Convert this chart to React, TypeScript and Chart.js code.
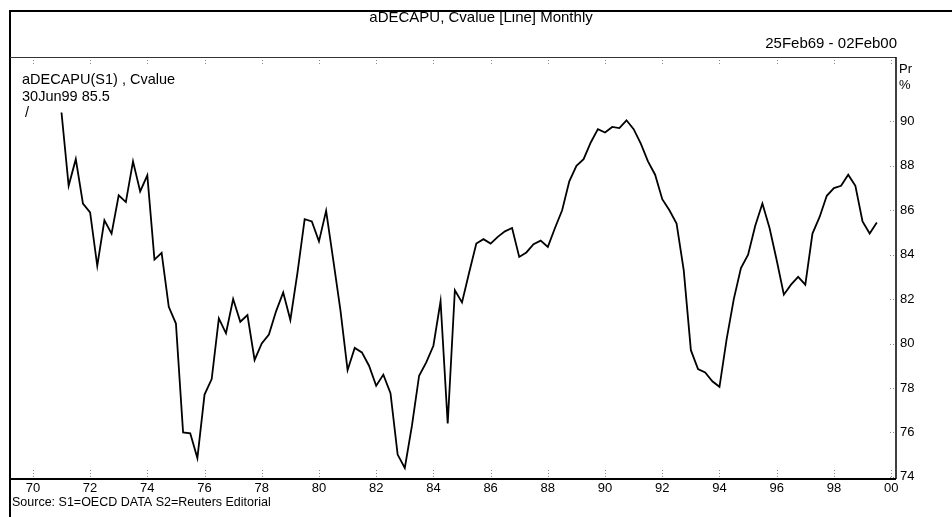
import React, { useEffect, useRef } from "react";
import { Chart, registerables } from "chart.js";

Chart.register(...registerables);

// Quarterly observations, first one dated at the end of 1970 Q4 (decimal year 1971.0)
const FIRST_PERIOD_END = 1971.0;
const PERIOD_STEP = 0.25;

const capacityUtilisation: number[] = [
  90.4, 87.1, 88.3, 86.3, 85.9, 83.5, 85.55, 84.95, 86.67, 86.37,
  88.2, 86.85, 87.57, 83.78, 84.08, 81.65, 80.9, 76.0, 75.96, 74.84,
  77.7, 78.4, 81.13, 80.46, 82.0, 80.98, 81.28, 79.26, 80.0, 80.4,
  81.45, 82.3, 81.06, 83.2, 85.6, 85.5, 84.6, 85.97, 83.75, 81.5,
  78.8, 79.8, 79.6, 79.0, 78.1, 78.6, 77.76, 75.0, 74.4, 76.3,
  78.55, 79.15, 79.9, 81.9, 76.4, 82.4, 81.85, 83.2, 84.5, 84.7,
  84.5, 84.8, 85.05, 85.2, 83.9, 84.1, 84.47, 84.63, 84.35, 85.2,
  86.0, 87.3, 88.0, 88.3, 89.05, 89.65, 89.5, 89.75, 89.7, 90.05,
  89.65, 89.0, 88.2, 87.6, 86.5, 86.0, 85.4, 83.3, 79.7, 78.85,
  78.7, 78.3, 78.05, 80.2, 82.0, 83.4, 84.0, 85.3, 86.3, 85.2,
  83.75, 82.2, 82.65, 83.0, 82.65, 84.95, 85.7, 86.65, 87.0, 87.1,
  87.6, 87.1, 85.5, 84.95, 85.45,
];

const xTickYears = [1970, 1972, 1974, 1976, 1978, 1980, 1982, 1984, 1986, 1988, 1990, 1992, 1994, 1996, 1998, 2000];
const xTickLabels = ["70", "72", "74", "76", "78", "80", "82", "84", "86", "88", "90", "92", "94", "96", "98", "00"];
const yTickValues = [74, 76, 78, 80, 82, 84, 86, 88, 90];

const X_MIN = 1969.2;
const X_MAX = 2000.17;
const Y_MIN = 73.9;
const Y_MAX = 92.9;

const titleText = "aDECAPU, Cvalue [Line] Monthly";
const dateRangeText = "25Feb69 - 02Feb00";
const seriesLabel = "aDECAPU(S1) , Cvalue";
const lastValueLabel = "30Jun99 85.5";
const unitLines = ["Pr", "%"];
const sourceText = "Source: S1=OECD DATA S2=Reuters Editorial";

const SANS = '"Liberation Sans", Arial, "DejaVu Sans", sans-serif';
const NARROW = '"Liberation Sans Narrow", "Liberation Sans", Arial, sans-serif';

const W = 952;
const H = 517;

const framePlugin = {
  id: "reutersFrame",
  beforeDraw(chart: any) {
    const ctx = chart.ctx;
    ctx.save();
    ctx.fillStyle = "#ffffff";
    ctx.fillRect(0, 0, chart.width, chart.height);
    ctx.restore();
  },
  afterDraw(chart: any) {
    const { ctx, chartArea: a, scales } = chart;
    const line = (x1: number, y1: number, x2: number, y2: number, w: number, color = "#000") => {
      ctx.beginPath();
      ctx.lineWidth = w;
      ctx.strokeStyle = color;
      ctx.moveTo(x1, y1);
      ctx.lineTo(x2, y2);
      ctx.stroke();
    };
    ctx.save();

    // small dotted tick marks inside the plot
    ctx.setLineDash([1, 2]);
    xTickYears.forEach((yr) => {
      const x = Math.round(scales.x.getPixelForValue(yr)) + 0.5;
      line(x, a.top, x, a.top + 8, 1, "#8a8a8a");
      line(x, a.bottom - 9, x, a.bottom, 1, "#8a8a8a");
    });
    yTickValues.forEach((v) => {
      const y = Math.round(scales.y.getPixelForValue(v)) + 0.5;
      line(a.right - 6, y, a.right, y, 1, "#8a8a8a");
    });
    ctx.setLineDash([]);

    // frame
    line(10, 11, W, 11, 2);
    line(10, 10, 10, H, 2);
    line(a.left, a.top + 0.5, a.right, a.top + 0.5, 1, "#333");
    line(a.right, a.top, a.right, a.bottom, 1.5);
    line(a.left, a.bottom, a.right, a.bottom, 2);

    // texts
    ctx.fillStyle = "#000";
    ctx.textBaseline = "middle";

    ctx.font = `15px ${SANS}`;
    ctx.textAlign = "center";
    ctx.fillText(titleText, 481, 18);

    ctx.textAlign = "right";
    ctx.fillText(dateRangeText, 897, 44);

    ctx.textAlign = "left";
    ctx.font = `14.5px ${SANS}`;
    ctx.fillText(seriesLabel, 22, 80);
    ctx.fillText(lastValueLabel, 22, 97);
    ctx.fillText("/", 25, 113);

    ctx.font = `13px ${NARROW}`;
    ctx.fillText(unitLines[0], 899, 69);
    ctx.fillText(unitLines[1], 899, 85);

    ctx.font = `12.5px ${SANS}`;
    ctx.fillText(sourceText, 12, 503);

    ctx.restore();
  },
};

export default function App() {
  const canvasRef = useRef<HTMLCanvasElement | null>(null);

  useEffect(() => {
    document.body.style.margin = "0";
    const canvas = canvasRef.current;
    if (!canvas) return;

    const points = capacityUtilisation.map((v, i) => ({
      x: FIRST_PERIOD_END + i * PERIOD_STEP,
      y: v,
    }));

    const chart = new Chart(canvas, {
      type: "line",
      data: {
        datasets: [
          {
            label: seriesLabel,
            data: points,
            borderColor: "#000",
            borderWidth: 1.8,
            pointRadius: 0,
            tension: 0,
            fill: false,
          },
        ],
      },
      options: {
        animation: false,
        responsive: false,
        devicePixelRatio: 1,
        parsing: false,
        layout: { padding: { left: 10, top: 57, right: 0, bottom: 0 } },
        plugins: {
          legend: { display: false },
          title: { display: false },
          tooltip: { enabled: false },
        },
        scales: {
          x: {
            type: "linear",
            min: X_MIN,
            max: X_MAX,
            afterBuildTicks: (s: any) => {
              s.ticks = xTickYears.map((v) => ({ value: v }));
            },
            afterFit: (s: any) => {
              s.height = 38;
            },
            grid: { display: false, drawTicks: false },
            border: { display: false },
            ticks: {
              autoSkip: false,
              maxRotation: 0,
              padding: 2,
              color: "#000",
              font: { family: NARROW, size: 13 },
              callback: (_v: any, i: number) => xTickLabels[i],
            },
          },
          y: {
            type: "linear",
            position: "right",
            min: Y_MIN,
            max: Y_MAX,
            afterBuildTicks: (s: any) => {
              s.ticks = yTickValues.map((v) => ({ value: v }));
            },
            afterFit: (s: any) => {
              s.width = 56;
            },
            grid: { display: false, drawTicks: false },
            border: { display: false },
            ticks: {
              padding: 4,
              color: "#000",
              font: { family: NARROW, size: 13 },
              callback: (v: any) => String(v),
            },
          },
        },
      },
      plugins: [framePlugin],
    });

    return () => chart.destroy();
  }, []);

  return (
    <div style={{ position: "absolute", left: 0, top: 0, width: W, height: H, background: "#fff" }}>
      <canvas ref={canvasRef} width={W} height={H} style={{ display: "block", width: W, height: H }} />
    </div>
  );
}
